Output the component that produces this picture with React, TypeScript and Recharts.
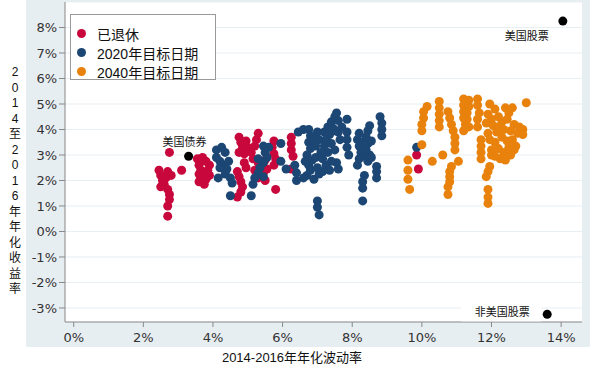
import { ScatterChart, Scatter, XAxis, YAxis, CartesianGrid } from "recharts";

// annualized volatility (%) vs annualized return (%), 2014-2016
const retired: [number, number][] = [
  [2.75, 3.1], [2.45, 2.4], [2.5, 2.2], [2.55, 2.0], [2.6, 1.85], [2.7, 1.65], [2.75, 1.45],
  [2.75, 1.25], [2.7, 1.0], [2.7, 0.6], [2.7, 2.35], [2.65, 2.1], [2.8, 2.2], [2.5, 1.75],
  [3.1, 2.4],
  [3.55, 2.85], [3.7, 2.9], [3.8, 2.75], [3.9, 2.6], [3.6, 2.6], [3.65, 2.4], [3.7, 2.2],
  [3.8, 2.05], [3.6, 1.95], [3.75, 1.85], [3.85, 2.4], [3.6, 2.25], [3.9, 2.2],
  [4.75, 3.7], [4.8, 3.5], [4.85, 3.3], [4.75, 3.1], [4.95, 3.55], [5.0, 3.3], [4.9, 3.05],
  [4.7, 2.35], [4.75, 2.15], [4.8, 1.95], [4.85, 1.75], [4.8, 1.55], [4.7, 1.35], [4.95, 2.5], [4.9, 2.7],
  [5.3, 3.85], [5.25, 3.6], [5.2, 3.35], [5.1, 3.1], [5.15, 2.85], [5.3, 2.7], [5.35, 2.5],
  [5.2, 2.4], [5.45, 2.3], [5.3, 2.1], [5.5, 2.0], [5.4, 2.6], [5.55, 2.45], [5.5, 2.8],
  [5.75, 3.55], [5.7, 3.3], [5.75, 3.05], [5.8, 2.85], [5.75, 2.6], [5.8, 1.65],
  [6.25, 3.7], [6.25, 3.45], [6.25, 3.2], [6.3, 2.95], [6.25, 2.45],
  [9.85, 3.0], [9.9, 2.45],
];

const target2020: [number, number][] = [
  [4.1, 3.2], [4.25, 3.3], [4.35, 3.1], [4.1, 2.9], [4.2, 2.75], [4.3, 2.6], [4.45, 2.75],
  [4.4, 2.45], [4.2, 2.5], [4.35, 2.25], [4.5, 2.1], [4.55, 1.9], [4.5, 1.4], [4.15, 2.1],
  [5.45, 3.35], [5.5, 3.1], [5.55, 2.9], [5.45, 2.7], [5.35, 2.5], [5.3, 2.3], [5.2, 2.1],
  [5.15, 1.85], [5.1, 1.4], [5.6, 3.3], [5.45, 2.15], [5.3, 2.85],
  [5.95, 3.45], [5.95, 2.75], [6.1, 2.45], [6.4, 2.3], [6.4, 2.0], [6.45, 3.9], [6.35, 2.6],
  [6.6, 4.0], [6.75, 4.0], [6.8, 3.75], [6.75, 3.5], [6.8, 3.25], [6.7, 3.0], [6.85, 2.8],
  [6.75, 2.6], [6.8, 2.4], [6.7, 2.2], [6.9, 2.05], [6.6, 2.1], [6.95, 3.35], [6.9, 3.6], [6.65, 2.75],
  [7.0, 3.9], [7.05, 3.6], [7.0, 2.5], [7.05, 2.25], [6.95, 2.9],
  [7.0, 1.2], [7.0, 0.95], [7.05, 0.65],
  [7.2, 3.9], [7.3, 4.1], [7.4, 4.3], [7.5, 4.5], [7.55, 4.65], [7.6, 4.35], [7.45, 4.05],
  [7.35, 3.8], [7.25, 3.6], [7.2, 3.35], [7.3, 3.1], [7.15, 2.85], [7.25, 2.6], [7.15, 2.35],
  [7.4, 3.45], [7.5, 3.2], [7.6, 3.9], [7.65, 3.6], [7.55, 2.7], [7.6, 2.45], [7.7, 4.1], [7.1, 3.1],
  [7.35, 2.4], [7.4, 2.75], [7.5, 3.95],
  [7.85, 4.4], [7.85, 3.9], [7.85, 3.6], [7.85, 3.3], [7.9, 3.0],
  [8.2, 3.85], [8.15, 3.6], [8.2, 3.35], [8.25, 3.1], [8.2, 2.85], [8.15, 2.6], [8.35, 2.2],
  [8.3, 1.95], [8.3, 1.7], [8.3, 1.2], [8.3, 3.5], [8.35, 2.95],
  [8.5, 4.15], [8.45, 3.95], [8.4, 3.7], [8.45, 3.45], [8.55, 3.55], [8.4, 3.2], [8.5, 3.0],
  [8.45, 2.75], [8.7, 2.55], [8.7, 2.35], [8.7, 2.1], [8.55, 2.9],
  [8.8, 4.5], [8.85, 4.25], [8.85, 4.0], [8.85, 3.75],
  [9.85, 3.3],
];

const target2040: [number, number][] = [
  [9.6, 2.8], [9.6, 2.4], [9.6, 2.05], [9.65, 1.65], [10.0, 3.4],
  [10.15, 4.9], [10.05, 4.7], [10.05, 4.45], [10.0, 4.2], [10.0, 3.95],
  [10.3, 2.75], [10.6, 3.0],
  [10.5, 5.1], [10.5, 4.85], [10.5, 4.6], [10.5, 4.35], [10.5, 4.1],
  [10.75, 4.7], [10.8, 4.45], [10.85, 4.2], [10.9, 3.95], [10.95, 3.7], [10.95, 3.45], [10.95, 3.2],
  [10.85, 2.55], [10.8, 2.35], [10.8, 2.15], [10.8, 1.95], [10.75, 1.75], [10.75, 1.45],
  [11.05, 2.75],
  [11.2, 5.2], [11.2, 4.95], [11.2, 4.7], [11.2, 4.45], [11.25, 4.2], [11.2, 3.95],
  [11.35, 5.15], [11.35, 4.9], [11.3, 4.65], [11.3, 4.4], [11.35, 4.1],
  [11.6, 5.2], [11.6, 4.95], [11.65, 4.65], [11.6, 4.4], [11.6, 4.1],
  [11.7, 3.6], [11.7, 3.35], [11.7, 3.1], [11.7, 2.85],
  [11.95, 2.55], [11.9, 2.35], [11.85, 2.15], [11.9, 1.65], [11.9, 1.35], [11.9, 1.1],
  [11.95, 5.0], [12.1, 4.8], [11.9, 4.6], [12.0, 4.4], [12.2, 4.5], [11.85, 4.25], [12.05, 4.15],
  [12.3, 4.3], [12.5, 4.65], [12.6, 4.85], [12.45, 4.4], [12.65, 4.2], [12.8, 4.1], [12.9, 4.0],
  [12.75, 3.85], [12.55, 3.95], [12.35, 4.0], [12.15, 3.9], [11.9, 3.85], [11.95, 3.6], [12.1, 3.5],
  [12.3, 3.7], [12.45, 3.55], [12.6, 3.6], [12.7, 3.35], [12.2, 3.25], [12.0, 3.2], [12.35, 3.1],
  [12.55, 3.0], [12.4, 2.8], [12.25, 2.85], [12.1, 2.95], [12.65, 3.2], [12.9, 3.8], [13.0, 5.05],
  [12.4, 4.85], [12.0, 3.0], [12.2, 4.1], [12.5, 3.3],
];

const benchmarks = [
  { name: "美国债券", x: 3.3, y: 2.95 },
  { name: "美国股票", x: 14.05, y: 8.25 },
  { name: "非美国股票", x: 13.6, y: -3.25 },
];

const xTicks = [0, 2, 4, 6, 8, 10, 12, 14];
const yTicks = [-3, -2, -1, 0, 1, 2, 3, 4, 5, 6, 7, 8];

const seriesNames = ["已退休", "2020年目标日期", "2040年目标日期"];
const seriesColors = ["#c8083c", "#1c4674", "#e8820c"];

const yTitle = "2014至2016年年化收益率";
const xTitle = "2014-2016年年化波动率";

// where each benchmark's label sits relative to its dot
const labelOffsets: Record<string, { dx: number; dy: number; box?: boolean }> = {
  美国债券: { dx: -4, dy: -14 },
  美国股票: { dx: -36, dy: 15 },
  非美国股票: { dx: -45, dy: -2, box: true },
};

const toPoints = (arr: [number, number][]) => arr.map(([x, y]) => ({ x, y }));

const tickFont = { fill: "#333", fontSize: 13, fontFamily: "DejaVu Sans" };
const cjk = "'Liberation Sans', 'Noto Sans CJK SC', sans-serif";

const dot = (color: string) => (p: any) => <circle cx={p.cx} cy={p.cy} r={4.5} fill={color} />;

const benchShape = (p: any) => {
  const o = labelOffsets[p.payload.name];
  const lx = p.cx + o.dx;
  const ly = p.cy + o.dy;
  return (
    <g>
      {o.box && <rect x={lx - 41} y={ly - 10} width={80} height={19} fill="#fff" />}
      <circle cx={p.cx} cy={p.cy} r={4.5} fill="#000" />
      <text x={lx} y={ly} textAnchor="middle" dominantBaseline="central" fontSize={11} fill="#111" fontFamily={cjk}>
        {p.payload.name}
      </text>
    </g>
  );
};

const YTitle = () => (
  <text x={15} fontSize={12} fill="#111" textAnchor="middle" fontFamily={cjk}>
    {Array.from(yTitle).map((c, i) => (
      <tspan key={i} x={15} y={76 + i * 15.5}>
        {c}
      </tspan>
    ))}
  </text>
);

const XTitle = () => (
  <text x={292} y={362} fontSize={13} fill="#111" textAnchor="middle" fontFamily={cjk}>
    {xTitle}
  </text>
);

export default function App() {
  return (
    <div style={{ position: "absolute", left: 0, top: 0, width: 600, height: 370, background: "#fff" }}>
      <div style={{ position: "absolute", left: 26, top: 0, width: 564, height: 347, background: "#e7eef2" }} />
      <div style={{ position: "absolute", left: 0, top: 0 }}>
        <ScatterChart width={600} height={370} margin={{ top: 2, right: 18, bottom: 0, left: 0 }}>
          <CartesianGrid vertical={false} stroke="#e8eff2" fill="#fff" />
          <XAxis
            type="number"
            dataKey="x"
            domain={[-0.25, 14.6]}
            ticks={xTicks}
            allowDataOverflow
            tickFormatter={(v) => `${v}%`}
            tick={tickFont}
            tickSize={5}
            tickMargin={6}
            height={48}
            stroke="#888"
            label={<XTitle />}
          />
          <YAxis
            type="number"
            dataKey="y"
            domain={[-3.55, 9.0]}
            ticks={yTicks}
            allowDataOverflow
            tickFormatter={(v) => `${v}%`}
            tick={tickFont}
            tickSize={6}
            tickMargin={2}
            width={65}
            stroke="#888"
            label={<YTitle />}
          />
          <Scatter name={seriesNames[0]} data={toPoints(retired)} shape={dot(seriesColors[0])} isAnimationActive={false} />
          <Scatter name={seriesNames[1]} data={toPoints(target2020)} shape={dot(seriesColors[1])} isAnimationActive={false} />
          <Scatter name={seriesNames[2]} data={toPoints(target2040)} shape={dot(seriesColors[2])} isAnimationActive={false} />
          <Scatter name="基准" data={benchmarks} shape={benchShape} isAnimationActive={false} />
        </ScatterChart>
      </div>
      <div
        style={{
          position: "absolute",
          left: 70,
          top: 14,
          width: 146,
          height: 66,
          border: "1px solid #999",
          background: "#fff",
          fontFamily: cjk,
          fontSize: 14,
          color: "#111",
          paddingTop: 9,
          boxSizing: "border-box",
        }}
      >
        {seriesNames.map((n, i) => (
          <div key={n} style={{ display: "flex", alignItems: "center", height: 19 }}>
            <span
              style={{ width: 9, height: 9, borderRadius: "50%", background: seriesColors[i], marginLeft: 6, marginRight: 11 }}
            />
            <span>{n}</span>
          </div>
        ))}
      </div>
    </div>
  );
}
